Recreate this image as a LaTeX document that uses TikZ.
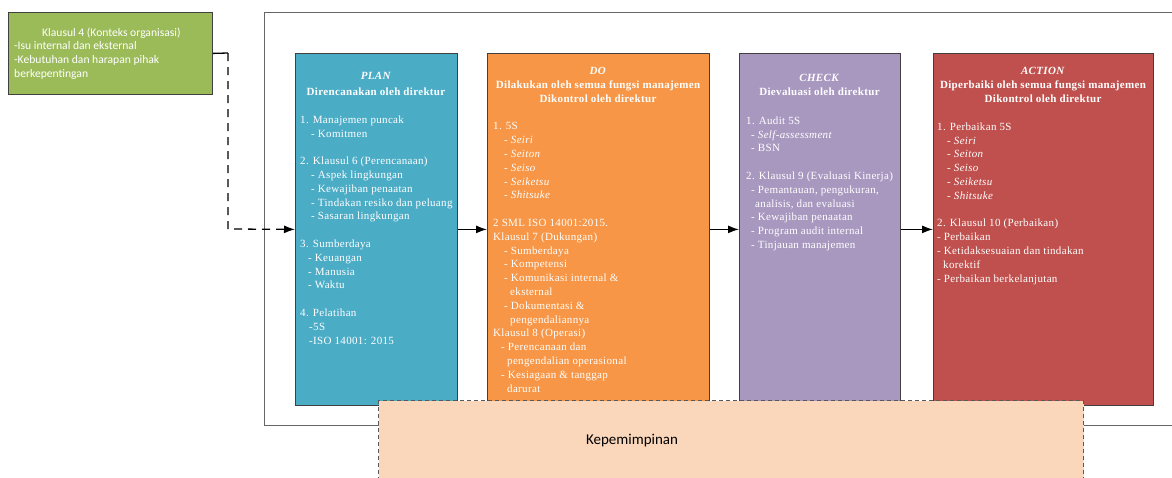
\documentclass[tikz,border=0pt]{standalone}
\usepackage{fontspec}
\setmainfont{Liberation Serif}
\newfontfamily\boxfont[LetterSpace=3]{Liberation Serif}
\newfontfamily\calfont{Carlito}
\usetikzlibrary{arrows.meta}
\definecolor{cgreen}{HTML}{9BBB59}
\definecolor{cteal}{HTML}{4BACC6}
\definecolor{corange}{HTML}{F79646}
\definecolor{cpurple}{HTML}{A898BF}
\definecolor{cred}{HTML}{C0504D}
\definecolor{cpeach}{HTML}{FAD6BA}
\definecolor{cborder}{HTML}{404040}
\tikzset{
  pdca/.style={draw=cborder, line width=0.8pt, inner sep=0pt, anchor=north west},
  ttl/.style={text=white, inner sep=0pt, anchor=north, align=center, font=\boxfont\fontsize{11}{13.8}\selectfont\bfseries},
  body/.style={text=white, inner sep=0pt, anchor=north west, align=left, font=\boxfont\fontsize{11}{13.8}\selectfont},
  arr/.style={line width=1.3pt, -{Latex[length=11pt,width=8pt]}},
}
\newcommand{\ind}[1]{\hspace*{#1pt}}
\begin{document}
\begin{tikzpicture}[x=1pt,y=-1pt]
\useasboundingbox (0,0) rectangle (1172,477);
\clip (0,0) rectangle (1172,477);
% outer frame
\draw[draw=gray!80!black, line width=1pt] (264,12) rectangle (1190,425);
% context box
\node[pdca, fill=cgreen, minimum width=204pt, minimum height=82pt] (ctx) at (8,12) {};
\node[text=white, inner sep=0pt, anchor=north west, align=left, font=\calfont\fontsize{11.6}{13.7}\selectfont] (ctxt) at (14,27.5)
{\ind{28}Klausul 4 (Konteks organisasi)\\-Isu internal dan eksternal\\-Kebutuhan dan harapan pihak\\berkepentingan};
% PDCA boxes
\node[pdca, fill=cteal, minimum width=162pt, minimum height=352pt] (plan) at (295,53) {};
\node[pdca, fill=corange, minimum width=222pt, minimum height=352pt] (do) at (487,53) {};
\node[pdca, fill=cpurple, minimum width=161pt, minimum height=352pt] (check) at (739,53) {};
\node[pdca, fill=cred, minimum width=220pt, minimum height=352pt] (act) at (933,53) {};
% PLAN text
\node[ttl] (plant) at (376,72.5) {\textit{PLAN}\\[1.3pt]Direncanakan oleh direktur};
\node[body] (planb) at (300,115.5) {1. Manajemen puncak\\
\ind{11}- Komitmen\\[13.8pt]
2. Klausul 6 (Perencanaan)\\
\ind{11}- Aspek lingkungan\\
\ind{11}- Kewajiban penaatan\\
\ind{11}- Tindakan resiko dan peluang\\
\ind{11}- Sasaran lingkungan\\[13.8pt]
3. Sumberdaya\\
\ind{8}- Keuangan\\
\ind{8}- Manusia\\
\ind{8}- Waktu\\[13.8pt]
4. Pelatihan\\
\ind{9}-5S\\
\ind{9}-ISO 14001: 2015};
% DO text
\node[ttl] (dot) at (598,67) {\textit{DO}\\Dilakukan oleh semua fungsi manajemen\\Dikontrol oleh direktur};
\node[body] (dob) at (493,122.5) {1. 5S\\
\ind{11}- \textit{Seiri}\\
\ind{11}- \textit{Seiton}\\
\ind{11}- \textit{Seiso}\\
\ind{11}- \textit{Seiketsu}\\
\ind{11}- \textit{Shitsuke}\\[13.8pt]
2 SML ISO 14001:2015.\\
Klausul 7 (Dukungan)\\
\ind{11}- Sumberdaya\\
\ind{11}- Kompetensi\\
\ind{11}- Komunikasi internal \&\\
\ind{17}eksternal\\
\ind{11}- Dokumentasi \&\\
\ind{17}pengendaliannya\\
Klausul 8 (Operasi)\\
\ind{8}- Perencanaan dan\\
\ind{14}pengendalian operasional\\
\ind{8}- Kesiagaan \& tanggap\\
\ind{14}darurat};
% CHECK text
\node[ttl] (checkt) at (819.5,74) {\textit{CHECK}\\Dievaluasi oleh direktur};
\node[body] (checkb) at (746,116.5) {1. Audit 5S\\
\ind{5}- \textit{Self-assessment}\\
\ind{5}- BSN\\[13.8pt]
2. Klausul 9 (Evaluasi Kinerja)\\
\ind{5}- Pemantauan, pengukuran,\\
\ind{9}analisis, dan evaluasi\\
\ind{5}- Kewajiban penaatan\\
\ind{5}- Program audit internal\\
\ind{5}- Tinjauan manajemen};
% ACTION text
\node[ttl] (actt) at (1043,67) {\textit{ACTION}\\Diperbaiki oleh semua fungsi manajemen\\Dikontrol oleh direktur};
\node[body] (actb) at (937,122.5) {1. Perbaikan 5S\\
\ind{10}- \textit{Seiri}\\
\ind{10}- \textit{Seiton}\\
\ind{10}- \textit{Seiso}\\
\ind{10}- \textit{Seiketsu}\\
\ind{10}- \textit{Shitsuke}\\[13.8pt]
2. Klausul 10 (Perbaikan)\\
- Perbaikan\\
- Ketidaksesuaian dan tindakan\\
\ind{6}korektif\\
- Perbaikan berkelanjutan};
% leadership box
\node[draw=gray!70!black, dash pattern=on 4pt off 3pt, line width=1pt, fill=cpeach, minimum width=705pt, minimum height=110pt, anchor=north west, inner sep=0pt] (lead) at (378,400) {};
\node[font=\calfont\fontsize{15}{18}\selectfont, inner sep=0pt] (leadt) at (632,441) {Kepemimpinan};
% connectors
\coordinate (c1) at (228,53);
\coordinate (c2) at (228,229);
\draw[line width=1.3pt] (ctx.east) -- (c1);
\draw[line width=1.3pt, dash pattern=on 8pt off 6pt, -{Latex[length=11pt,width=8pt]}] (c1) -- (c2) -- (plan.west);
\draw[arr] (plan) -- (do);
\draw[arr] (do) -- (check);
\draw[arr] (check) -- (act);
\end{tikzpicture}
\end{document}
